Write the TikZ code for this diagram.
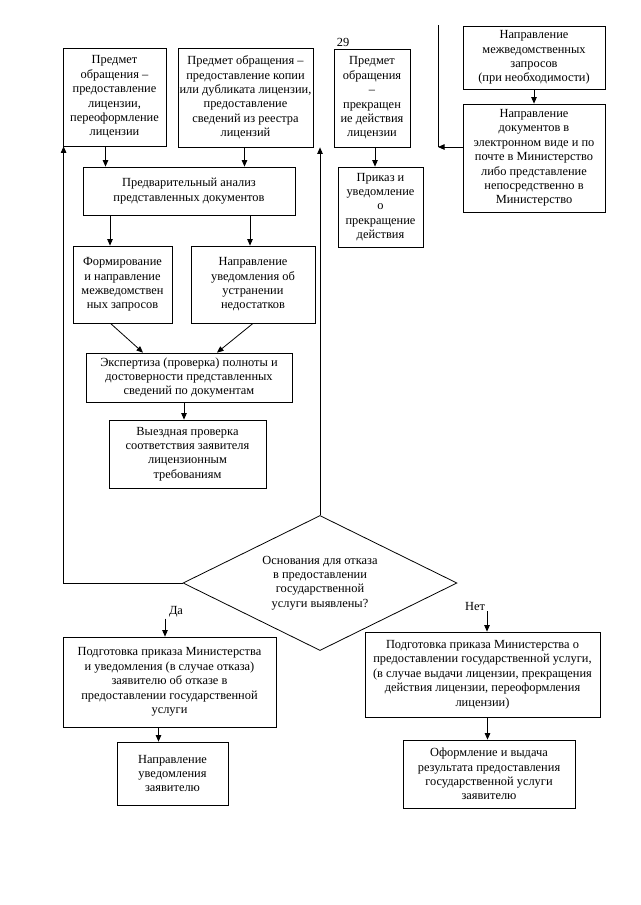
\documentclass[tikz,border=0pt]{standalone}
\usepackage{fontspec}
\setmainfont{Liberation Serif}
\usepackage{tikz}
\usetikzlibrary{shapes.geometric, arrows.meta, positioning, calc}

\begin{document}
\begin{tikzpicture}[
    x=1pt, y=-1pt,
    % Style for the process blocks
    block/.style = {
        rectangle, draw, line width=0.8pt, inner sep=0pt,
        align=center, font=\fontsize{12.4}{14.4}\selectfont
    },
    % Style for the decision rhombus
    decision/.style = {
        diamond, draw, line width=0.8pt, inner sep=0pt, aspect=2.03,
        align=center, font=\fontsize{12.4}{14.4}\selectfont
    },
    % Style for the branch captions
    branch/.style = {font=\fontsize{12.4}{14.4}\selectfont, inner sep=1pt},
    arr/.style = {-{Triangle[length=6.5pt, width=5.5pt]}, line width=0.8pt},
    conn/.style = {line width=0.8pt},
]
\path[use as bounding box, fill=white] (0,0) rectangle (640,905);

% --- 1. DEFINE NODES ---

% Top row
\node[branch] (pgnum) at (343,42) {29};
\node[block, minimum width=103pt, minimum height=98pt] (b1) at (114.5,97)
    {Предмет\\обращения –\\предоставление\\лицензии,\\переоформление\\лицензии};
\node[block, minimum width=135pt, minimum height=99pt] (b2) at (245.5,97.5)
    {Предмет обращения –\\предоставление копии\\или дубликата лицензии,\\предоставление\\сведений из реестра\\лицензий};
\node[block, minimum width=76pt, minimum height=98pt] (b3) at (372,98)
    {Предмет\\обращения\\–\\прекращен\\ие действия\\лицензии};
\node[block, minimum width=85pt, minimum height=80pt] (stop) at (380.5,207)
    {Приказ и\\уведомление\\о\\прекращение\\действия};

% Incoming documents
\node[block, minimum width=142pt, minimum height=63pt] (zap) at (534,57.5)
    {Направление\\межведомственных\\запросов\\(при необходимости)};
\node[block, minimum width=142pt, minimum height=108pt] (docs) at (534,158)
    {Направление\\документов в\\электронном виде и по\\почте в Министерство\\либо представление\\непосредственно в\\Министерство};
\coordinate (jtop) at (438,25);
\coordinate (jbot) at (438,147);

% Checks
\node[block, minimum width=212pt, minimum height=48pt] (an) at (189,191)
    {Предварительный анализ\\представленных документов};
\node[block, minimum width=99pt, minimum height=77pt] (fm) at (122.5,284.5)
    {Формирование\\и направление\\межведомствен\\ных запросов};
\node[block, minimum width=124pt, minimum height=77pt] (np) at (253,284.5)
    {Направление\\уведомления об\\устранении\\недостатков};
\node[block, minimum width=206pt, minimum height=49pt] (ex) at (189,377.5)
    {Экспертиза (проверка) полноты и\\достоверности представленных\\сведений по документам};
\node[block, minimum width=157pt, minimum height=68pt] (vy) at (187.5,454)
    {Выездная проверка\\соответствия заявителя\\лицензионным\\требованиям};

% Decision
\node[decision, minimum width=274pt, minimum height=135pt] (dec) at (320,583)
    {Основания для отказа\\в предоставлении\\государственной\\услуги выявлены?};

% Refusal branch
\node[branch] (da) at (176,612) {Да};
\node[block, minimum width=213pt, minimum height=90pt] (pl) at (169.5,682)
    {Подготовка приказа Министерства\\и уведомления (в случае отказа)\\заявителю об отказе в\\предоставлении государственной\\услуги};
\node[block, minimum width=111pt, minimum height=63pt] (nu) at (172.5,773.5)
    {Направление\\уведомления\\заявителю};

% Grant branch
\node[branch] (net) at (475,606) {Нет};
\node[block, minimum width=235pt, minimum height=85pt] (pr) at (482.5,674.5)
    {Подготовка приказа Министерства о\\предоставлении государственной услуги,\\(в случае выдачи лицензии, прекращения\\действия лицензии, переоформления\\лицензии)};
\node[block, minimum width=172pt, minimum height=68pt] (of) at (489,774)
    {Оформление и выдача\\результата предоставления\\государственной услуги\\заявителю};


% --- 2. DRAW CONNECTORS ---
\draw[arr] ([xshift=-9pt]b1.south) -- ([xshift=-9pt]b1.south |- an.north);
\draw[arr] ([xshift=-1pt]b2.south) -- ([xshift=-1pt]b2.south |- an.north);
\draw[arr] ([xshift=3pt]b3.south) -- ([xshift=3pt]b3.south |- stop.north);
\draw[arr] (zap.south) -- (docs.north);
\draw[conn] (jtop) -- (jbot);
\draw[arr] (docs.west |- jbot) -- (jbot);

\draw[arr] ([xshift=-79pt]an.south) -- ([xshift=-79pt]an.south |- fm.north);
\draw[arr] ([xshift=61pt]an.south) -- ([xshift=61pt]an.south |- np.north);
\draw[arr] ([xshift=-12pt]fm.south) -- ([xshift=-46pt]ex.north);
\draw[arr] (np.south) -- ([xshift=28pt]ex.north);
\draw[arr] ([xshift=-5pt]ex.south) -- ([xshift=-5pt]ex.south |- vy.north);

% Return loops
\draw[arr] (dec.west) -| ([xshift=1pt]b1.south west);
\draw[arr] (dec.north) -- (dec.north |- b2.south);

% Branches
\draw[arr] ([xshift=-11pt]da.south) -- ([xshift=-11pt]da.south |- pl.north);
\draw[arr] ([xshift=-11pt]pl.south) -- ([xshift=-11pt]pl.south |- nu.north);
\draw[arr] ([xshift=12pt]net.south) -- ([xshift=12pt]net.south |- pr.north);
\draw[arr] ([xshift=5pt]pr.south) -- ([xshift=5pt]pr.south |- of.north);

\end{tikzpicture}
\end{document}
